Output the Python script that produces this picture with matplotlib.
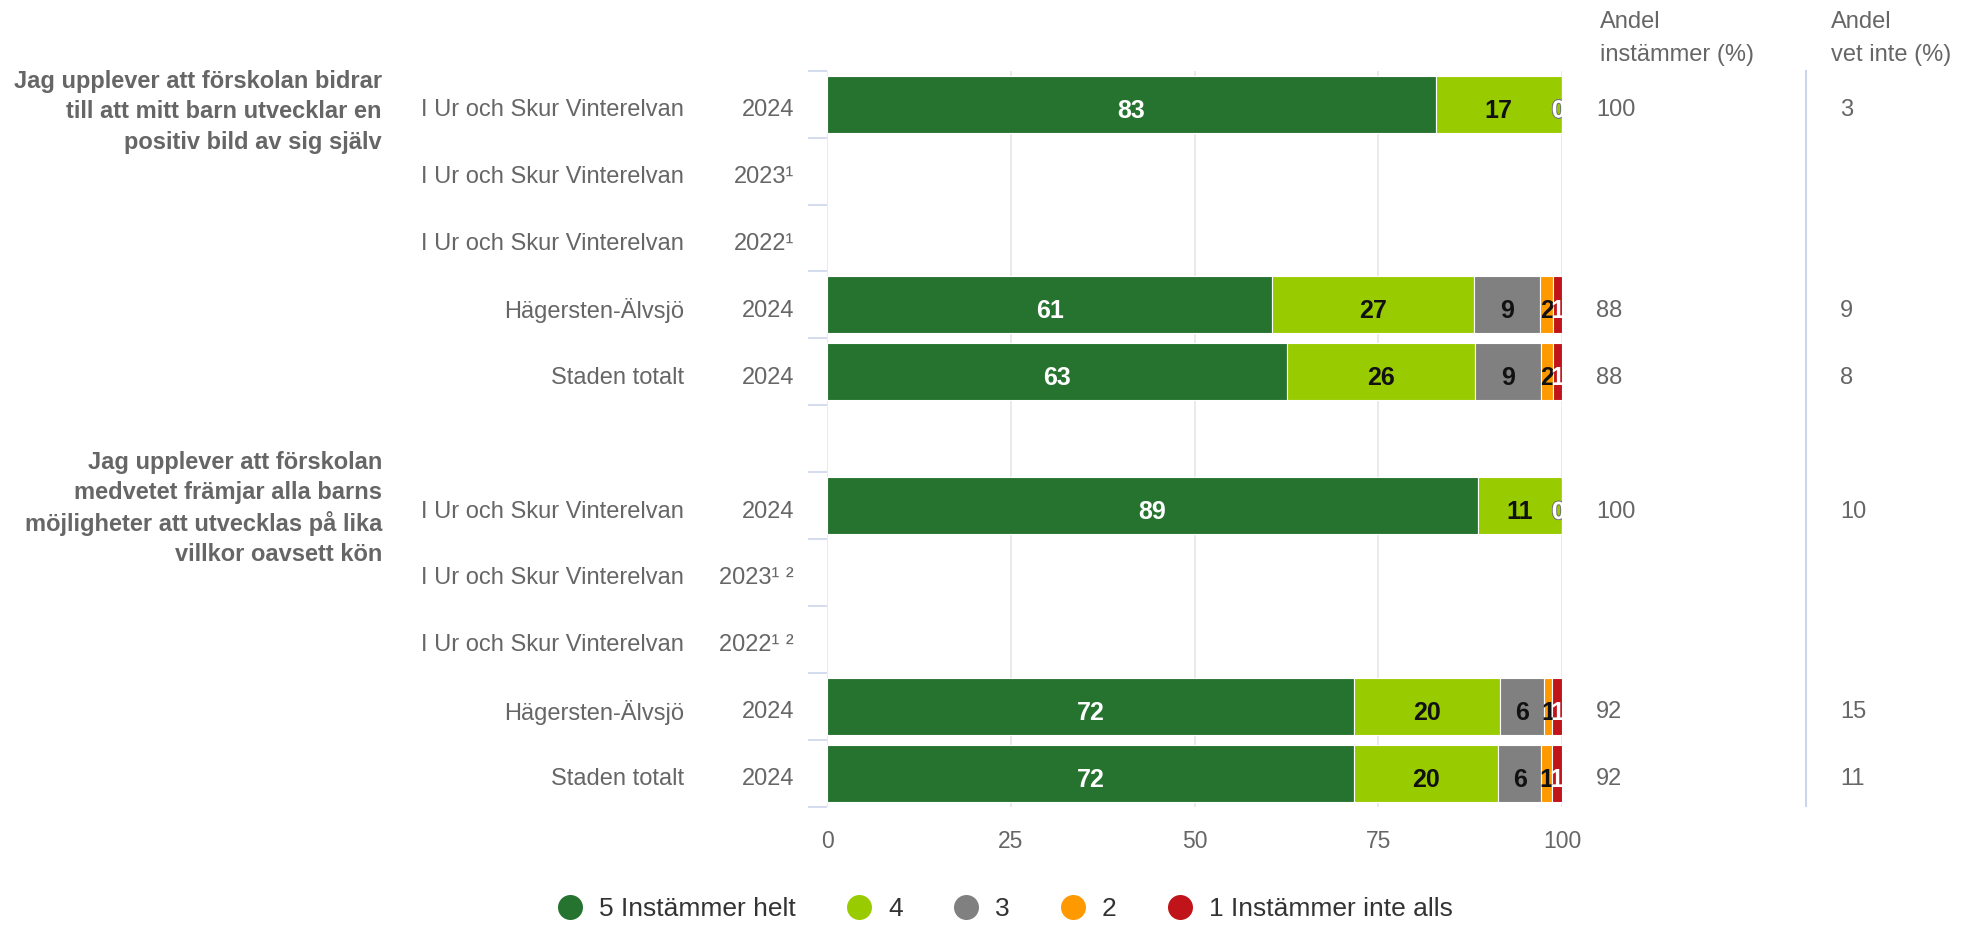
import matplotlib
matplotlib.use('Agg')
import numpy as np
import matplotlib.pyplot as plt
import matplotlib.transforms as mtransforms
import matplotlib.patheffects as pe
from matplotlib.lines import Line2D

plt.rcParams['font.family'] = ['Liberation Sans', 'DejaVu Sans']

# --- data ---
questions = [
    "Jag upplever att förskolan bidrar\ntill att mitt barn utvecklar en\npositiv bild av sig själv",
    "Jag upplever att förskolan\nmedvetet främjar alla barns\nmöjligheter att utvecklas på lika\nvillkor oavsett kön",
]
question_rows = [0, 6]

units = ["I Ur och Skur Vinterelvan", "I Ur och Skur Vinterelvan", "I Ur och Skur Vinterelvan",
         "Hägersten-Älvsjö", "Staden totalt", "",
         "I Ur och Skur Vinterelvan", "I Ur och Skur Vinterelvan", "I Ur och Skur Vinterelvan",
         "Hägersten-Älvsjö", "Staden totalt"]
years = ["2024", "2023¹", "2022¹", "2024", "2024", "",
         "2024", "2023¹ ²", "2022¹ ²", "2024", "2024"]

series_names = ["5 Instämmer helt", "4", "3", "2", "1 Instämmer inte alls"]
colors = ["#267330", "#99cc00", "#808080", "#ff9900", "#c0141a"]
label_colors = ["white", "#111111", "#111111", "#111111", "white"]

nan = np.nan
s5 = [82.8, nan, nan, 60.6, 62.6, nan, 88.6, nan, nan, 71.7, 71.7]
s4 = [17.2, nan, nan, 27.4, 25.6, nan, 11.4, nan, nan, 19.9, 19.6]
s3 = [0.0, nan, nan, 9.0, 8.9, nan, 0.0, nan, nan, 6.0, 5.9]
s2 = [0.0, nan, nan, 1.8, 1.7, nan, 0.0, nan, nan, 1.1, 1.4]
s1 = [0.0, nan, nan, 1.2, 1.2, nan, 0.0, nan, nan, 1.3, 1.4]

andel_instammer = ["100", "", "", "88", "88", "", "100", "", "", "92", "92"]
andel_vet_inte = ["3", "", "", "9", "8", "", "10", "", "", "15", "11"]

W, H = 1970, 925
fig = plt.figure(figsize=(W / 100, H / 100), dpi=100)
ax = fig.add_axes([827 / W, 1 - 806.7 / H, 735 / W, 736 / H])

grey = "#666666"
series = [s5, s4, s3, s2, s1]
y = np.arange(len(units))
left = np.zeros(len(units))
bar_trans = mtransforms.offset_copy(ax.transData, fig=fig, y=-2.8, units="points")
for k, vals in enumerate(series):
    vals = np.array(vals, dtype=float)
    ok = ~np.isnan(vals)
    ax.barh(y[ok], vals[ok], left=left[ok], height=0.85, color=colors[k],
            edgecolor="white", linewidth=0.8, zorder=2)
    for i in y[ok]:
        w = vals[i]
        if w == 0:
            ax.text(99.55, i, "0", transform=bar_trans, ha="center", va="center_baseline",
                    fontsize=18, fontweight="bold", color="white", zorder=4, clip_on=True,
                    path_effects=[pe.withStroke(linewidth=1.2, foreground="#777777")])
        else:
            ax.text(left[i] + w / 2, i, f"{w:.0f}", transform=bar_trans, ha="center",
                    va="center_baseline", fontsize=18, fontweight="bold",
                    color=label_colors[k], zorder=3)
    left[ok] += vals[ok]

ax.set_xlim(0, 100)
ax.set_ylim(len(units) - 0.5, -0.5)
ax.set_xticks([0, 25, 50, 75, 100])
ax.grid(axis="x", color="#e6e6e6", linewidth=1.2, zorder=0)
ax.set_axisbelow(True)
ax.tick_params(axis="x", length=0, labelsize=16.5, labelcolor=grey, pad=17)
ax.set_yticks([])
ax.set_yticks(np.arange(-0.5, len(units), 1), minor=True)
ax.tick_params(axis="y", which="minor", length=14, width=1.2, color="#ccd6eb")
for sp in ax.spines.values():
    sp.set_visible(False)

trans = mtransforms.blended_transform_factory(fig.transFigure, ax.transData)
row_trans = mtransforms.offset_copy(trans, fig=fig, y=-2.5, units="points")
for i in y:
    ax.text(684 / W, i, units[i], transform=row_trans, ha="right", va="center_baseline",
            fontsize=17, color=grey)
    ax.text(794 / W, i, years[i], transform=row_trans, ha="right", va="center_baseline",
            fontsize=17, color=grey)
    ax.text(1596 / W, i, andel_instammer[i], transform=row_trans, ha="left", va="center_baseline",
            fontsize=17, color=grey)
    ax.text(1840 / W, i, andel_vet_inte[i], transform=row_trans, ha="left", va="center_baseline",
            fontsize=17, color=grey)

group_shift = [-5.5, -1.8]
for q, row, sh in zip(questions, question_rows, group_shift):
    lines = q.split("\n")
    n = len(lines)
    for li, line in enumerate(lines):
        off = ((n - 1) / 2 - li) * 22.1 + sh
        ax.annotate(line, xy=(382 / W, row), xycoords=trans, xytext=(0, off),
                    textcoords="offset points", ha="right", va="center", fontsize=17,
                    fontweight="bold", color=grey, annotation_clip=False)

# column headers
for x0, lines in [(1600, ["Andel", "instämmer (%)"]), (1831, ["Andel", "vet inte (%)"])]:
    for yy, line in zip([19, 52.5], lines):
        fig.text(x0 / W, 1 - yy / H, line, ha="left", va="center_baseline", fontsize=17, color=grey)

fig.add_artist(Line2D([1806 / W, 1806 / W], [1 - 71 / H, 1 - 806 / H], color="#ccd6eb", lw=1.5))

handles = [Line2D([], [], marker="o", ls="", ms=18, mew=0, color=c) for c in colors]
fig.legend(handles, series_names, loc="center", bbox_to_anchor=(0.51, 1 - 909.5 / H), ncol=5,
           frameon=False, fontsize=19, handlelength=1.0, handletextpad=0.6, columnspacing=1.9,
           labelcolor="#333333", borderaxespad=0, borderpad=0)

fig.savefig("out.png", dpi=100)
